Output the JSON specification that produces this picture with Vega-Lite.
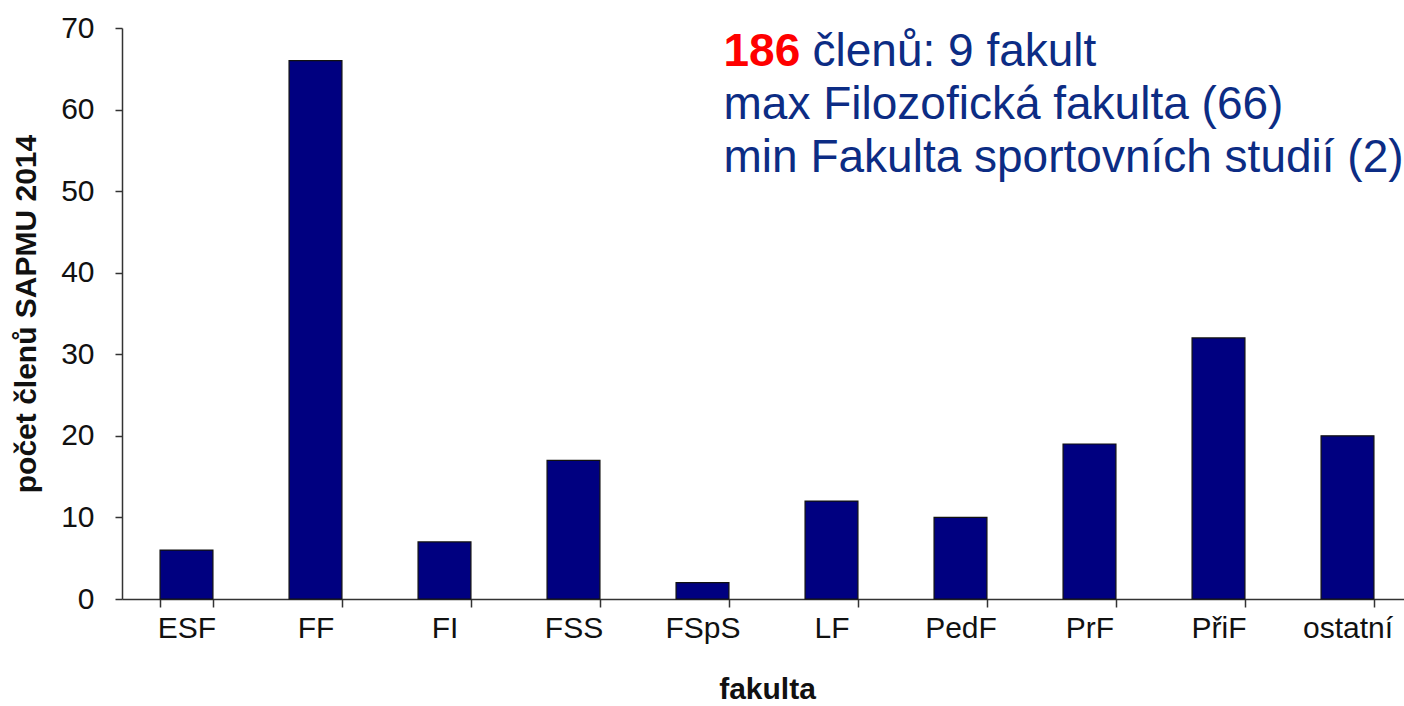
{
  "$schema": "https://vega.github.io/schema/vega-lite/v6.json",
  "autosize": {"type": "none"},
  "padding": {"left": 122, "top": 28, "right": 0, "bottom": 107},
  "width": 1290,
  "height": 571,
  "background": "white",
  "config": {
    "view": {"stroke": null},
    "font": "Liberation Sans",
    "axis": {
      "labelFont": "Liberation Sans",
      "titleFont": "Liberation Sans",
      "labelColor": "#111111",
      "titleColor": "#111111",
      "domainColor": "#333333",
      "tickColor": "#333333",
      "domainWidth": 1.5,
      "tickWidth": 1.5,
      "grid": false
    }
  },
  "datasets": {
    "bars": [
      {"fakulta": "ESF", "pocet": 6},
      {"fakulta": "FF", "pocet": 66},
      {"fakulta": "FI", "pocet": 7},
      {"fakulta": "FSS", "pocet": 17},
      {"fakulta": "FSpS", "pocet": 2},
      {"fakulta": "LF", "pocet": 12},
      {"fakulta": "PedF", "pocet": 10},
      {"fakulta": "PrF", "pocet": 19},
      {"fakulta": "PřiF", "pocet": 32},
      {"fakulta": "ostatní", "pocet": 20}
    ],
    "notes": [
      {"fakulta": "FSpS", "y": 65.4, "part": "count", "text": "186"},
      {"fakulta": "FSpS", "y": 65.4, "part": "rest", "text": "členů: 9 fakult"},
      {"fakulta": "FSpS", "y": 58.9, "part": "line", "text": "max Filozofická fakulta (66)"},
      {"fakulta": "FSpS", "y": 52.3, "part": "line", "text": "min Fakulta sportovních studií (2)"}
    ]
  },
  "encoding": {
    "x": {
      "field": "fakulta",
      "type": "nominal",
      "sort": null,
      "scale": {
        "domain": ["ESF", "FF", "FI", "FSS", "FSpS", "LF", "PedF", "PrF", "PřiF", "ostatní"],
        "paddingInner": 0.59,
        "paddingOuter": 0.295
      },
      "axis": {
        "title": "fakulta",
        "titleFontSize": 30,
        "titleFontWeight": "bold",
        "titlePadding": 31,
        "labelFontSize": 30,
        "labelAngle": 0,
        "labelPadding": 6,
        "tickSize": 8,
        "tickBand": "extent"
      }
    },
    "y": {
      "field": "pocet",
      "type": "quantitative",
      "scale": {"domain": [0, 70], "nice": false},
      "axis": {
        "title": "počet členů SAPMU 2014",
        "titleFontSize": 30,
        "titleFontWeight": "bold",
        "titlePadding": 19,
        "labelFontSize": 30,
        "labelPadding": 21,
        "tickSize": 7,
        "values": [0, 10, 20, 30, 40, 50, 60, 70]
      }
    }
  },
  "layer": [
    {
      "data": {"name": "bars"},
      "mark": {"type": "bar", "color": "#000080", "stroke": "#111111", "strokeWidth": 1.2}
    },
    {
      "data": {"name": "notes"},
      "transform": [{"filter": "datum.part === 'count'"}],
      "mark": {"type": "text", "align": "left", "baseline": "alphabetic", "fontSize": 46, "fontWeight": "bold", "color": "#FF0000", "dx": 21},
      "encoding": {"y": {"field": "y", "type": "quantitative"}, "text": {"field": "text"}}
    },
    {
      "data": {"name": "notes"},
      "transform": [{"filter": "datum.part === 'rest'"}],
      "mark": {"type": "text", "align": "left", "baseline": "alphabetic", "fontSize": 46, "color": "#0C2C84", "dx": 110},
      "encoding": {"y": {"field": "y", "type": "quantitative"}, "text": {"field": "text"}}
    },
    {
      "data": {"name": "notes"},
      "transform": [{"filter": "datum.part === 'line'"}],
      "mark": {"type": "text", "align": "left", "baseline": "alphabetic", "fontSize": 46, "color": "#0C2C84", "dx": 21},
      "encoding": {"y": {"field": "y", "type": "quantitative"}, "text": {"field": "text"}}
    }
  ]
}
